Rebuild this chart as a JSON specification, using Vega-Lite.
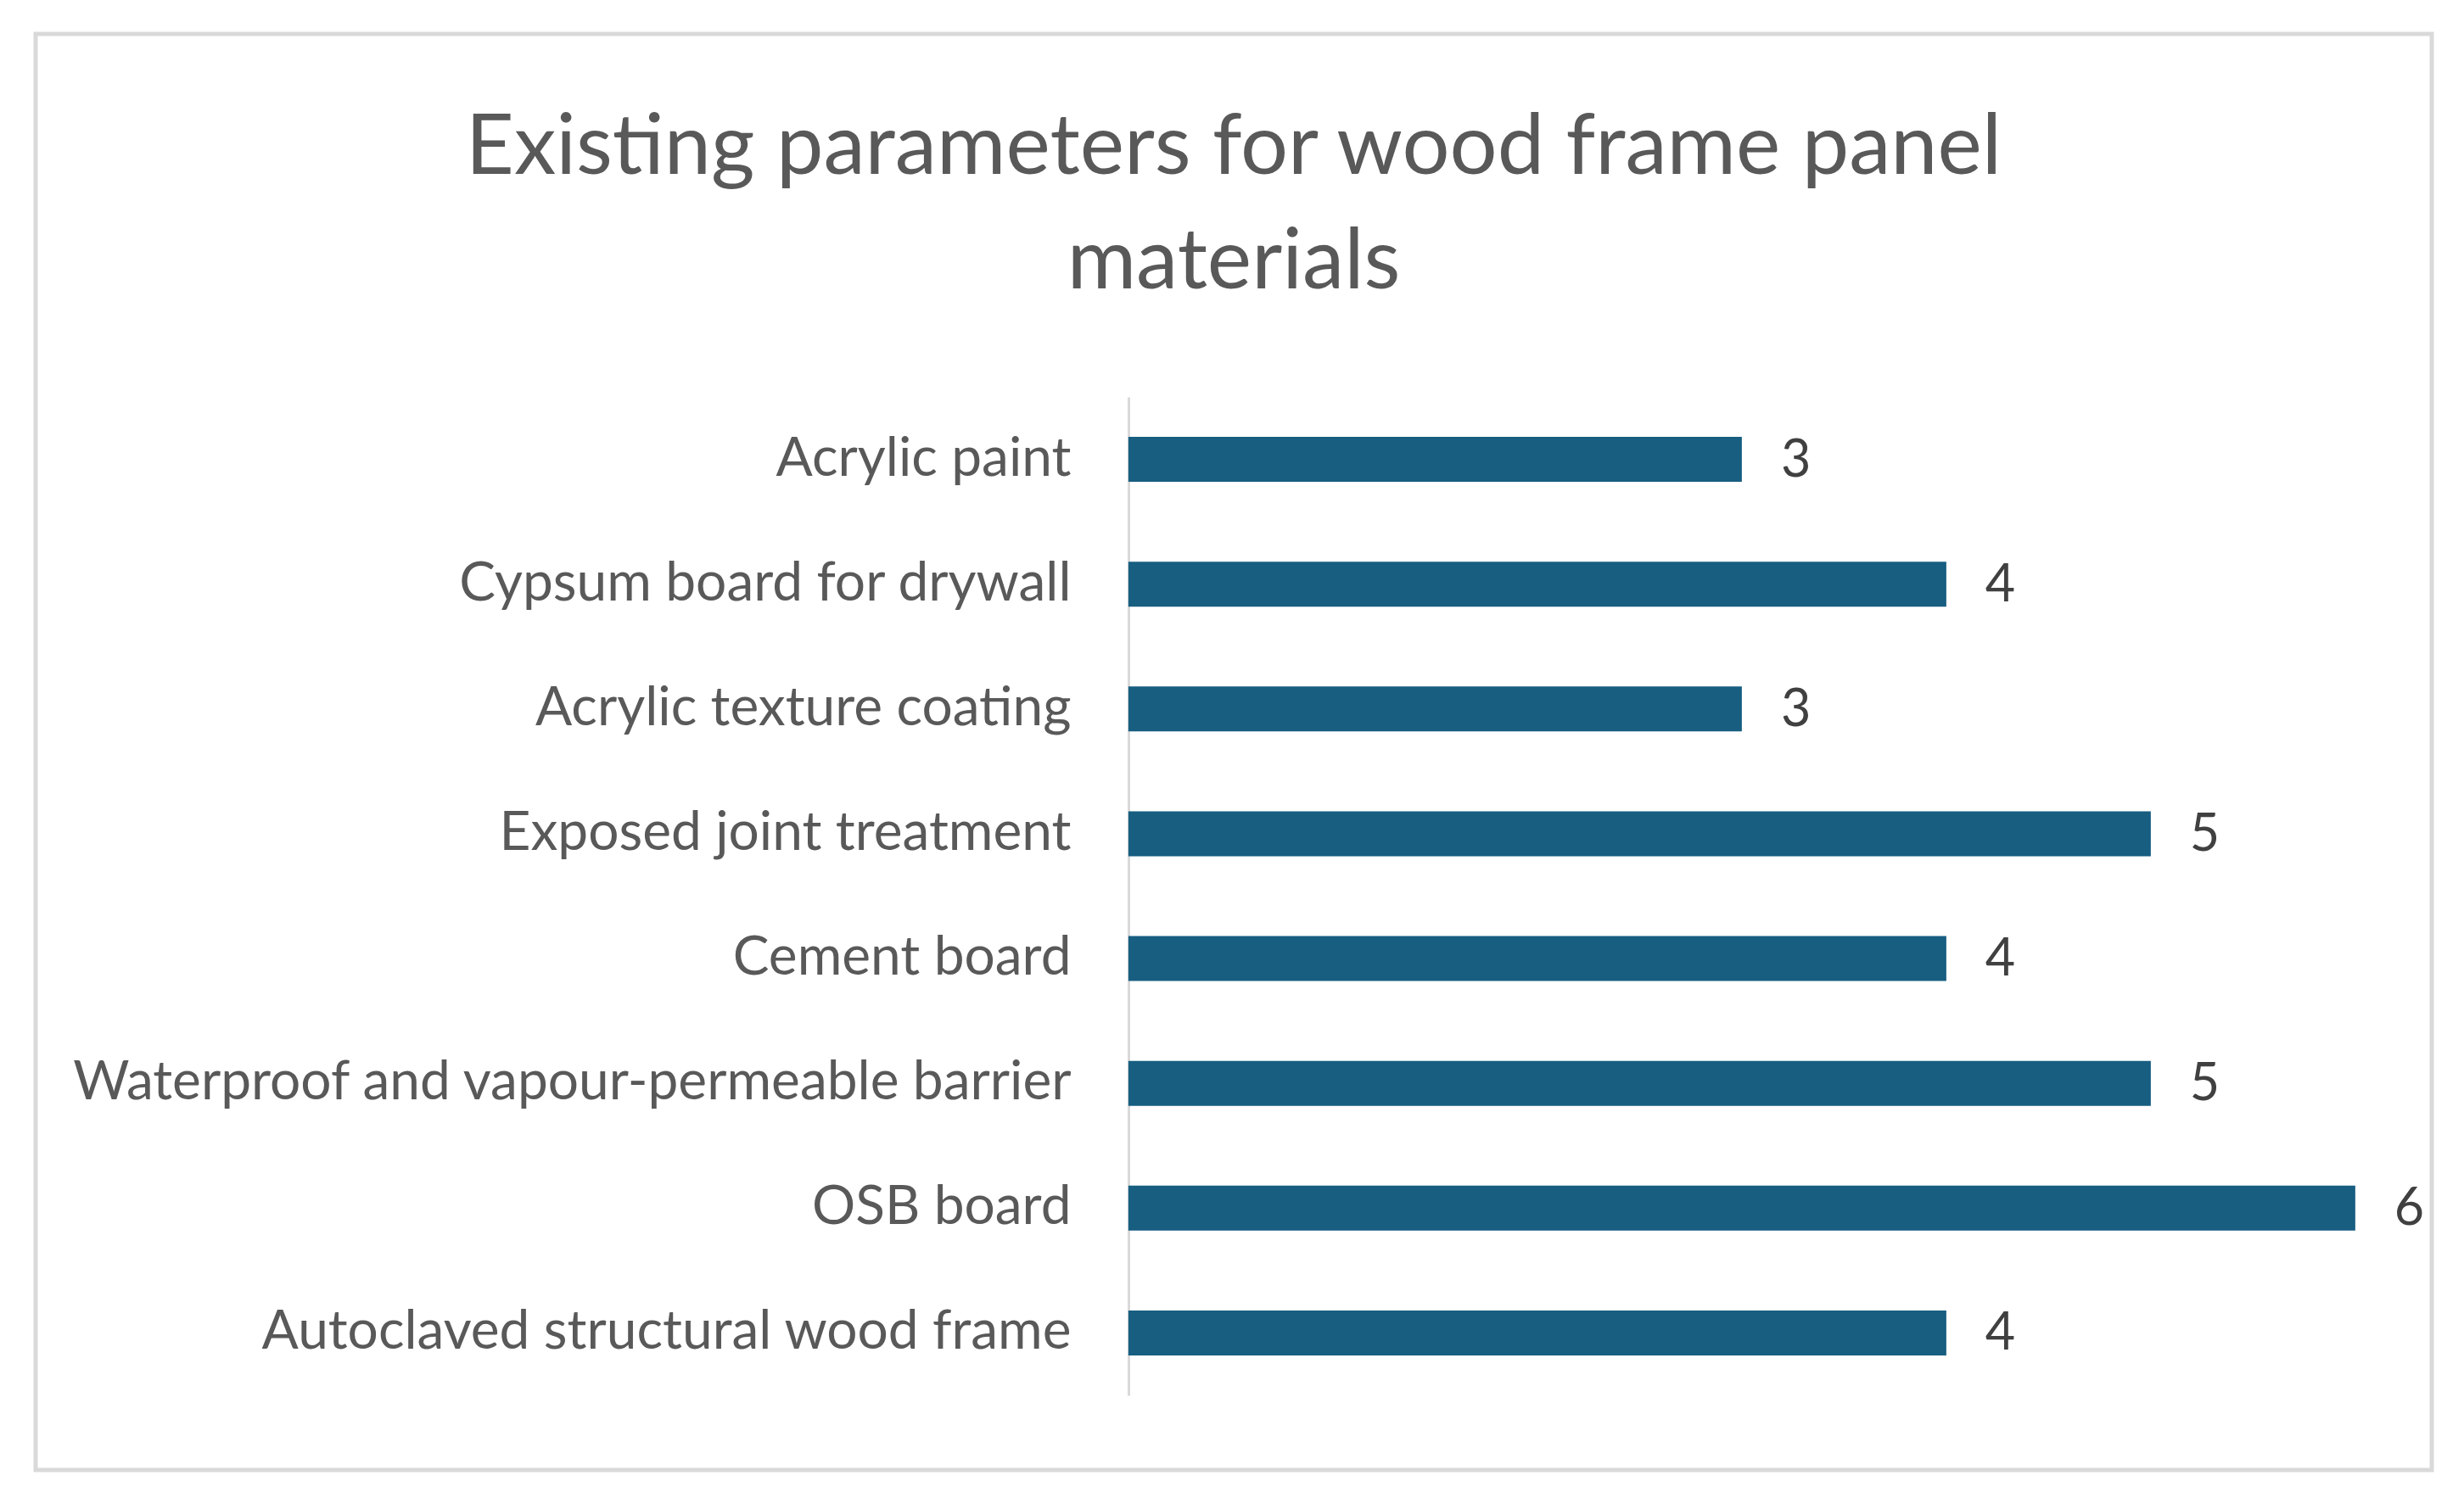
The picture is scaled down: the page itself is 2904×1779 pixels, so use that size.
{
  "$schema": "https://vega.github.io/schema/vega-lite/v6.json",
  "width": 2824,
  "height": 1693,
  "autosize": {"type": "none"},
  "padding": {"left": 42, "top": 40, "right": 38, "bottom": 46},
  "background": "#ffffff",
  "config": {
    "view": {"stroke": "#d9d9d9", "strokeWidth": 5},
    "font": "Lato"
  },
  "title": {
    "text": ["Existing parameters for wood frame panel", "materials"],
    "font": "Lato",
    "fontSize": 99,
    "fontWeight": "normal",
    "color": "#595959",
    "lineHeight": 135,
    "anchor": "middle",
    "frame": "group",
    "baseline": "top",
    "offset": -321
  },
  "data": {
    "values": [
      {"material": "Acrylic paint", "value": 3},
      {"material": "Cypsum board for drywall", "value": 4},
      {"material": "Acrylic texture coating", "value": 3},
      {"material": "Exposed joint treatment", "value": 5},
      {"material": "Cement board", "value": 4},
      {"material": "Waterproof and vapour-permeable barrier", "value": 5},
      {"material": "OSB board", "value": 6},
      {"material": "Autoclaved structural wood frame", "value": 4}
    ]
  },
  "encoding": {
    "y": {
      "field": "material",
      "type": "nominal",
      "sort": null,
      "scale": {"range": [428, 1605], "paddingInner": 0.64, "paddingOuter": 0.32},
      "axis": {
        "title": null,
        "offset": -1288,
        "ticks": false,
        "domainColor": "#d9d9d9",
        "domainWidth": 3,
        "labelFont": "Lato",
        "labelFontSize": 64,
        "labelColor": "#595959",
        "labelPadding": 68,
        "labelLimit": 0
      }
    }
  },
  "layer": [
    {
      "mark": {"type": "bar", "color": "#175e81"},
      "encoding": {
        "x": {
          "field": "value",
          "type": "quantitative",
          "scale": {"domain": [-5.344, 6.374], "nice": false, "zero": false},
          "axis": null
        },
        "x2": {"datum": 0}
      }
    },
    {
      "mark": {"type": "text", "align": "left", "baseline": "middle", "dx": 46, "dy": 2, "fontSize": 61, "color": "#404040", "font": "Lato"},
      "encoding": {
        "x": {"field": "value", "type": "quantitative"},
        "text": {"field": "value", "type": "quantitative"}
      }
    }
  ]
}
